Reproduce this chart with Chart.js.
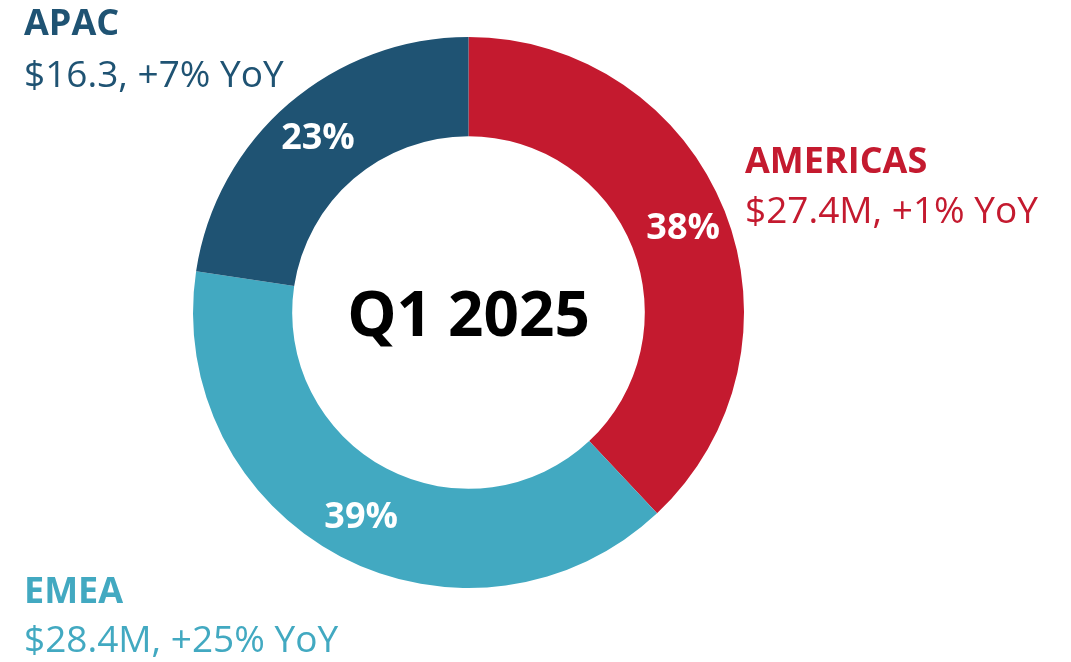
<!DOCTYPE html>
<html>
<head>
<meta charset="utf-8">
<title>Q1 2025 revenue by region</title>
<script src="https://cdn.jsdelivr.net/npm/chart.js@4/dist/chart.umd.min.js"></script>
<style>
  html, body { margin: 0; padding: 0; background: #ffffff; }
  #wrap { position: relative; width: 1071px; height: 662px; }
</style>
</head>
<body>
<div id="wrap"><canvas id="region-chart"></canvas></div>
<script>
// data
const regions = ["AMERICAS", "EMEA", "APAC"];
const revenue = [27.4, 28.4, 16.3];
const revenueText = ["$27.4M", "$28.4M", "$16.3"];
const yoyGrowth = [1, 25, 7];
const regionColors = ["#C41A2F", "#42A9C1", "#1F5373"];
const centerTitle = "Q1 2025";

const FONT = "'Open Sans', 'Noto Sans', sans-serif";

// where each region's caption goes (left x, baseline of line 1 / line 2)
const captionPos = [
  { x: 745, y1: 173, y2: 223 },
  { x: 24, y1: 603, y2: 652 },
  { x: 24, y1: 35, y2: 87 },
];

const total = revenue.reduce((a, b) => a + b, 0);

const labelsPlugin = {
  id: "labels",
  afterDraw(chart) {
    const ctx = chart.ctx;
    const arcs = chart.getDatasetMeta(0).data;
    ctx.save();

    // percent inside each slice
    ctx.fillStyle = "#ffffff";
    ctx.font = "bold 36px " + FONT;
    ctx.textAlign = "center";
    ctx.textBaseline = "middle";
    arcs.forEach((arc, i) => {
      const mid = (arc.startAngle + arc.endAngle) / 2;
      const r = arc.innerRadius + (arc.outerRadius - arc.innerRadius) * 0.55;
      const pct = Math.round((revenue[i] / total) * 100) + "%";
      ctx.fillText(pct, arc.x + Math.cos(mid) * r, arc.y + Math.sin(mid) * r + 1);
    });

    // title in the hole
    const c = arcs[0];
    ctx.fillStyle = "#000000";
    ctx.font = "bold 62px " + FONT;
    ctx.textBaseline = "alphabetic";
    ctx.fillText(centerTitle, c.x, c.y + 23);

    // region captions
    ctx.textAlign = "left";
    regions.forEach((name, i) => {
      const p = captionPos[i];
      ctx.fillStyle = regionColors[i];
      ctx.font = "bold 36px " + FONT;
      ctx.fillText(name, p.x, p.y1);
      ctx.font = "37px " + FONT;
      ctx.fillText(`${revenueText[i]}, +${yoyGrowth[i]}% YoY`, p.x, p.y2);
    });

    ctx.restore();
  },
};

const regionCanvas = document.getElementById("region-chart");

let regionChart = new Chart(regionCanvas, {
  type: "doughnut",
  data: {
    labels: regions,
    datasets: [
      {
        data: revenue,
        backgroundColor: regionColors,
        borderWidth: 0,
      },
    ],
  },
  options: {
    responsive: true,
    maintainAspectRatio: false,
    animation: false,
    cutout: "64%",
    layout: {
      padding: { left: 193, right: 327, top: 37, bottom: 74 },
    },
    plugins: {
      legend: { display: false },
      tooltip: { enabled: false },
    },
  },
  plugins: [labelsPlugin],
});
</script>
</body>
</html>
